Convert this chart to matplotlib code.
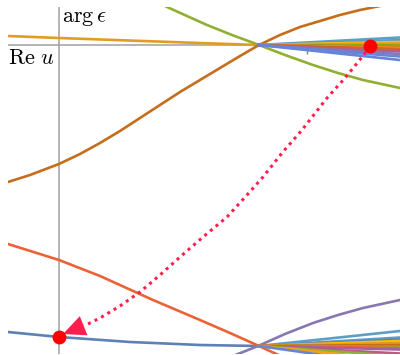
import matplotlib
matplotlib.use('Agg')
import matplotlib.pyplot as plt

plt.rcParams['mathtext.fontset'] = 'cm'

# Mathematica default palette (ColorData 97)
palette = ['#5E81B5', '#E19C24', '#8FB032', '#EB6235', '#8778B3', '#C56E1A',
           '#5D9EC7', '#FFBF00', '#A5609D', '#929600', '#E95536', '#6685D9',
           '#F89F13', '#BC5B80', '#47B66D']

# main curves (x = arg eps, y = Re u)
gold_x = [-0.51, 0, 0.7, 1.4, 2.0, 2.7, 3.41]
gold_y = [0.09, 0.07, 0.045, 0.02, 0.0, -0.02, -0.04]

brown_x = [-0.51, -0.29, 0, 0.21, 0.41, 0.61, 0.81, 1.01, 1.21, 1.41, 1.61, 1.81,
           2.0, 2.21, 2.41, 2.61, 2.81, 3.01, 3.21]
brown_y = [-1.37, -1.30, -1.19, -1.09, -0.98, -0.86, -0.73, -0.60, -0.47, -0.35,
           -0.23, -0.11, 0.0, 0.10, 0.18, 0.24, 0.30, 0.35, 0.39]

green_x = [0.91, 1.08, 1.28, 1.48, 1.73, 2.0, 2.26, 2.54, 2.79, 3.04, 3.41]
green_y = [0.47, 0.38, 0.29, 0.20, 0.10, 0.0, -0.10, -0.20, -0.28, -0.35, -0.43]

blue_x = [-0.51, 0, 0.71, 1.41, 2.0, 2.71, 3.41]
blue_y = [-2.87, -2.92, -2.97, -3.0, -3.01, -3.02, -3.03]

red_x = [-0.51, 0, 0.41, 0.94, 1.41, 1.71, 2.0, 2.13, 2.26]
red_y = [-1.99, -2.15, -2.31, -2.55, -2.75, -2.88, -3.01, -3.07, -3.13]

purple_x = [1.71, 1.84, 1.99, 2.26, 2.54, 2.79, 3.04, 3.41]
purple_y = [-3.12, -3.07, -3.01, -2.89, -2.78, -2.70, -2.63, -2.55]

# fans of curves leaving the two crossing points
top_cross = (2.0, 0.0)
bottom_cross = (2.0, -3.01)
fan_end_x = 3.41
top_fan_ends = [0.075, 0.05, 0.03, 0.015, 0.0, -0.01, -0.02, -0.03, -0.04,
                -0.05, -0.065, -0.09, -0.115, -0.15]
top_fan_colors = ['#5D9EC7', '#5D9EC7', '#FFBF00', '#E19C24', '#929600', '#8FB032',
                  '#C56E1A', '#F89F13', '#E95536', '#C56E1A', '#BC5B80', '#8778B3',
                  '#6685D9', '#6685D9']
bottom_fan_ends = [-2.86, -2.925, -2.945, -2.96, -2.98, -3.0, -3.01, -3.02, -3.03,
                   -3.045, -3.085, -3.11, -3.15, -3.21]
bottom_fan_colors = ['#5D9EC7', '#5D9EC7', '#5E81B5', '#FFBF00', '#E19C24', '#C56E1A',
                     '#929600', '#8FB032', '#EB6235', '#A5609D', '#BC5B80', '#8FB032',
                     '#F89F13', '#6685D9']

tick_x = [2.48, 2.83, 3.19]

# dotted path between the two red points
arrow_x = [3.11, 3.03, 2.95, 2.86, 2.68, 2.43, 2.23, 2.04, 1.88, 1.68, 1.44, 1.21,
           1.01, 0.81, 0.61, 0.41, 0.29, 0.04]
arrow_y = [-0.01, -0.12, -0.22, -0.33, -0.53, -0.85, -1.08, -1.32, -1.50, -1.72,
           -1.92, -2.12, -2.30, -2.47, -2.61, -2.73, -2.79, -2.89]
dots_x = [3.11, 0.0]
dots_y = [-0.01, -2.92]

fig = plt.figure(figsize=(4, 3.55), dpi=100)
ax = fig.add_axes([8 / 400, 1 / 355, 392 / 400, 347 / 355])
ax.set_xlim(-0.51, 3.41)
ax.set_ylim(-3.09, 0.38)
ax.axis('off')

axis_col = '#a0a0a0'
ax.axhline(0, color=axis_col, lw=1.1, zorder=1)
ax.axvline(0, color=axis_col, lw=1.1, zorder=1)
ax.vlines(tick_x, -0.085, 0, color='#808080', lw=1.0, zorder=1)

lw = 1.9
ax.plot(blue_x, blue_y, color=palette[0], lw=lw, zorder=2)
ax.plot(gold_x, gold_y, color=palette[1], lw=lw, zorder=2)
ax.plot(green_x, green_y, color=palette[2], lw=lw, zorder=2)
ax.plot(red_x, red_y, color=palette[3], lw=lw, zorder=2)
ax.plot(purple_x, purple_y, color=palette[4], lw=lw, zorder=2)
ax.plot(brown_x, brown_y, color=palette[5], lw=lw, zorder=2)

for yend, c in zip(top_fan_ends, top_fan_colors):
    ax.plot([top_cross[0], fan_end_x], [top_cross[1], yend], color=c, lw=lw, zorder=2)
for yend, c in zip(bottom_fan_ends, bottom_fan_colors):
    ax.plot([bottom_cross[0], fan_end_x], [bottom_cross[1], yend], color=c, lw=lw, zorder=2)

arrow_col = '#FF1F4F'
ax.plot(arrow_x[:-1], arrow_y[:-1], color=arrow_col, lw=2.2,
        linestyle=(0, (1, 1.4)), zorder=4)
ax.annotate('', xy=(arrow_x[-1], arrow_y[-1]), xytext=(arrow_x[-2], arrow_y[-2]),
            arrowprops=dict(arrowstyle='-|>,head_length=0.8,head_width=0.37',
                            mutation_scale=20, color=arrow_col, lw=0,
                            shrinkA=0, shrinkB=0), zorder=4)
ax.plot(dots_x, dots_y, 'o', color='#FF0000', ms=10, mec='none', zorder=5)

ax.text(0.03, 0.375, r'$\arg\epsilon$', fontsize=16, va='top', ha='left')
ax.text(-0.51, -0.03, r'$\mathrm{Re}\ u$', fontsize=16, va='top', ha='left')

fig.savefig('out.png', dpi=100)
